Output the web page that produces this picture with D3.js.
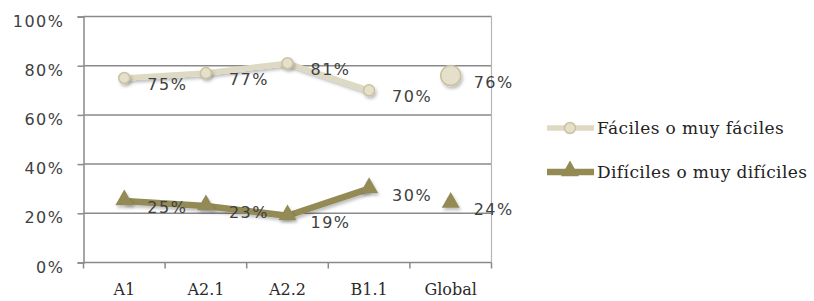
<!DOCTYPE html>
<html lang="es">
<head>
<meta charset="UTF-8">
<title>Fáciles / Difíciles</title>
<script src="https://cdnjs.cloudflare.com/ajax/libs/d3/7.8.5/d3.min.js"></script>
<style>
  body { margin: 0; background: #fff; }
  .tick-label { font-family: "DejaVu Sans", sans-serif; font-size: 16px; fill: #404040; letter-spacing: 1.5px; }
  .cat-label { font-family: "DejaVu Serif", serif; font-size: 16px; fill: #2a2a2a; }
  .data-label { font-family: "DejaVu Sans", sans-serif; font-size: 16px; fill: #404040; letter-spacing: 1.5px; }
  .legend text { font-family: "DejaVu Serif", serif; font-size: 17px; fill: #222; letter-spacing: 0.4px; }
</style>
</head>
<body>
<div id="chart"></div>
<script>
// data
const categories = ["A1", "A2.1", "A2.2", "B1.1", "Global"];
const faciles = [0.75, 0.77, 0.81, 0.70, 0.76];
const dificiles = [0.25, 0.23, 0.19, 0.30, 0.24];
const yTicks = [0, 0.2, 0.4, 0.6, 0.8, 1];
const seriesNames = ["Fáciles o muy fáciles", "Difíciles o muy difíciles"];

const W = 814, H = 301;
const plot = {left: 83.5, right: 491.5, top: 16.5, bottom: 262.5};

const colFacLine = "#ddd9c3", colFacFill = "#e4e0cc", colFacStroke = "#c9c29e";
const colDif = "#948a54";
const grid = "#8a8a8a";

const svg = d3.select("#chart").append("svg")
    .attr("width", W)
    .attr("height", H);

// soft shadow like the spreadsheet markers
const defs = svg.append("defs");
const f = defs.append("filter").attr("id", "shadow")
    .attr("x", "-50%").attr("y", "-50%").attr("width", "200%").attr("height", "200%");
f.append("feDropShadow")
    .attr("dx", 1.5).attr("dy", 2.5).attr("stdDeviation", 1.8)
    .attr("flood-color", "#000").attr("flood-opacity", 0.25);

const x = d3.scaleBand()
    .domain(categories)
    .range([plot.left, plot.right]);

const y = d3.scaleLinear()
    .domain([0, 1])
    .range([plot.bottom, plot.top]);

const cx = c => x(c) + x.bandwidth() / 2;

// horizontal gridlines
svg.append("g")
    .selectAll("line")
    .data(yTicks.filter(d => d > 0))
    .join("line")
    .attr("x1", plot.left).attr("x2", plot.right)
    .attr("y1", d => y(d)).attr("y2", d => y(d))
    .attr("stroke", grid).attr("stroke-width", 1.5);

// right border of the plot area
svg.append("line")
    .attr("x1", plot.right).attr("x2", plot.right)
    .attr("y1", plot.top).attr("y2", plot.bottom)
    .attr("stroke", "#b5b5b5").attr("stroke-width", 1.2);

// Y axis
const yAxis = svg.append("g")
    .attr("transform", `translate(${plot.left},0)`)
    .call(d3.axisLeft(y).tickValues(yTicks).tickSize(6).tickPadding(13)
        .tickFormat(d => Math.round(d * 100) + "%"));
yAxis.select(".domain").attr("stroke", grid).attr("stroke-width", 1.5);
yAxis.selectAll(".tick line").attr("stroke", grid).attr("stroke-width", 1.5);
yAxis.selectAll(".tick text").attr("class", "tick-label").attr("dy", "0.6em")
    .attr("font-family", null).attr("font-size", null);

// X axis (ticks at category boundaries)
svg.append("line")
    .attr("x1", plot.left).attr("x2", plot.right)
    .attr("y1", plot.bottom).attr("y2", plot.bottom)
    .attr("stroke", grid).attr("stroke-width", 1.5);
const bounds = categories.map(c => x(c)).concat([plot.right]);
svg.append("g")
    .selectAll("line")
    .data(bounds)
    .join("line")
    .attr("x1", d => d).attr("x2", d => d)
    .attr("y1", plot.bottom).attr("y2", plot.bottom + 6)
    .attr("stroke", grid).attr("stroke-width", 1.5);
svg.append("g")
    .selectAll("text")
    .data(categories)
    .join("text")
    .attr("class", "cat-label")
    .attr("x", d => cx(d))
    .attr("y", 295)
    .attr("text-anchor", "middle")
    .text(d => d);

const line = d3.line()
    .x((d, i) => cx(categories[i]))
    .y(d => y(d));

const nLine = categories.length - 1; // Global is plotted without a line

// Fáciles series
svg.append("path")
    .datum(faciles.slice(0, nLine))
    .attr("fill", "none")
    .attr("stroke", colFacLine)
    .attr("stroke-width", 5.5)
    .attr("stroke-linejoin", "round")
    .attr("filter", "url(#shadow)")
    .attr("d", line);

svg.append("g")
    .selectAll("circle")
    .data(faciles)
    .join("circle")
    .attr("cx", (d, i) => cx(categories[i]))
    .attr("cy", d => y(d))
    .attr("r", (d, i) => i === nLine ? 10 : 5.5)
    .attr("fill", colFacFill)
    .attr("stroke", colFacStroke)
    .attr("stroke-width", 1.5)
    .attr("filter", "url(#shadow)");

// Difíciles series
svg.append("path")
    .datum(dificiles.slice(0, nLine))
    .attr("fill", "none")
    .attr("stroke", colDif)
    .attr("stroke-width", 6.5)
    .attr("stroke-linejoin", "round")
    .attr("filter", "url(#shadow)")
    .attr("d", line);

const tri = d3.symbol().type(d3.symbolTriangle).size(140);
svg.append("g")
    .selectAll("path")
    .data(dificiles)
    .join("path")
    .attr("transform", (d, i) => `translate(${cx(categories[i])},${y(d) - 1})`)
    .attr("d", tri)
    .attr("fill", colDif)
    .attr("filter", "url(#shadow)");

// data labels
const labels = [faciles, dificiles];
labels.forEach(vals => {
    svg.append("g")
        .selectAll("text")
        .data(vals)
        .join("text")
        .attr("class", "data-label")
        .attr("x", (d, i) => cx(categories[i]) + 23)
        .attr("y", d => y(d) + 12)
        .text(d => Math.round(d * 100) + "%");
});

// legend
const legend = svg.append("g").attr("class", "legend");
const legY = [128, 172];

legend.append("line")
    .attr("x1", 547).attr("x2", 594)
    .attr("y1", legY[0]).attr("y2", legY[0])
    .attr("stroke", colFacLine).attr("stroke-width", 5.5);
legend.append("circle")
    .attr("cx", 570).attr("cy", legY[0]).attr("r", 5.5)
    .attr("fill", colFacFill).attr("stroke", colFacStroke).attr("stroke-width", 1.5);

legend.append("line")
    .attr("x1", 547).attr("x2", 594)
    .attr("y1", legY[1]).attr("y2", legY[1])
    .attr("stroke", colDif).attr("stroke-width", 6.5);
legend.append("path")
    .attr("transform", `translate(570,${legY[1] - 1})`)
    .attr("d", tri)
    .attr("fill", colDif);

legend.selectAll("text")
    .data(seriesNames)
    .join("text")
    .attr("x", 597)
    .attr("y", (d, i) => legY[i] + 6)
    .text(d => d);
</script>
</body>
</html>
